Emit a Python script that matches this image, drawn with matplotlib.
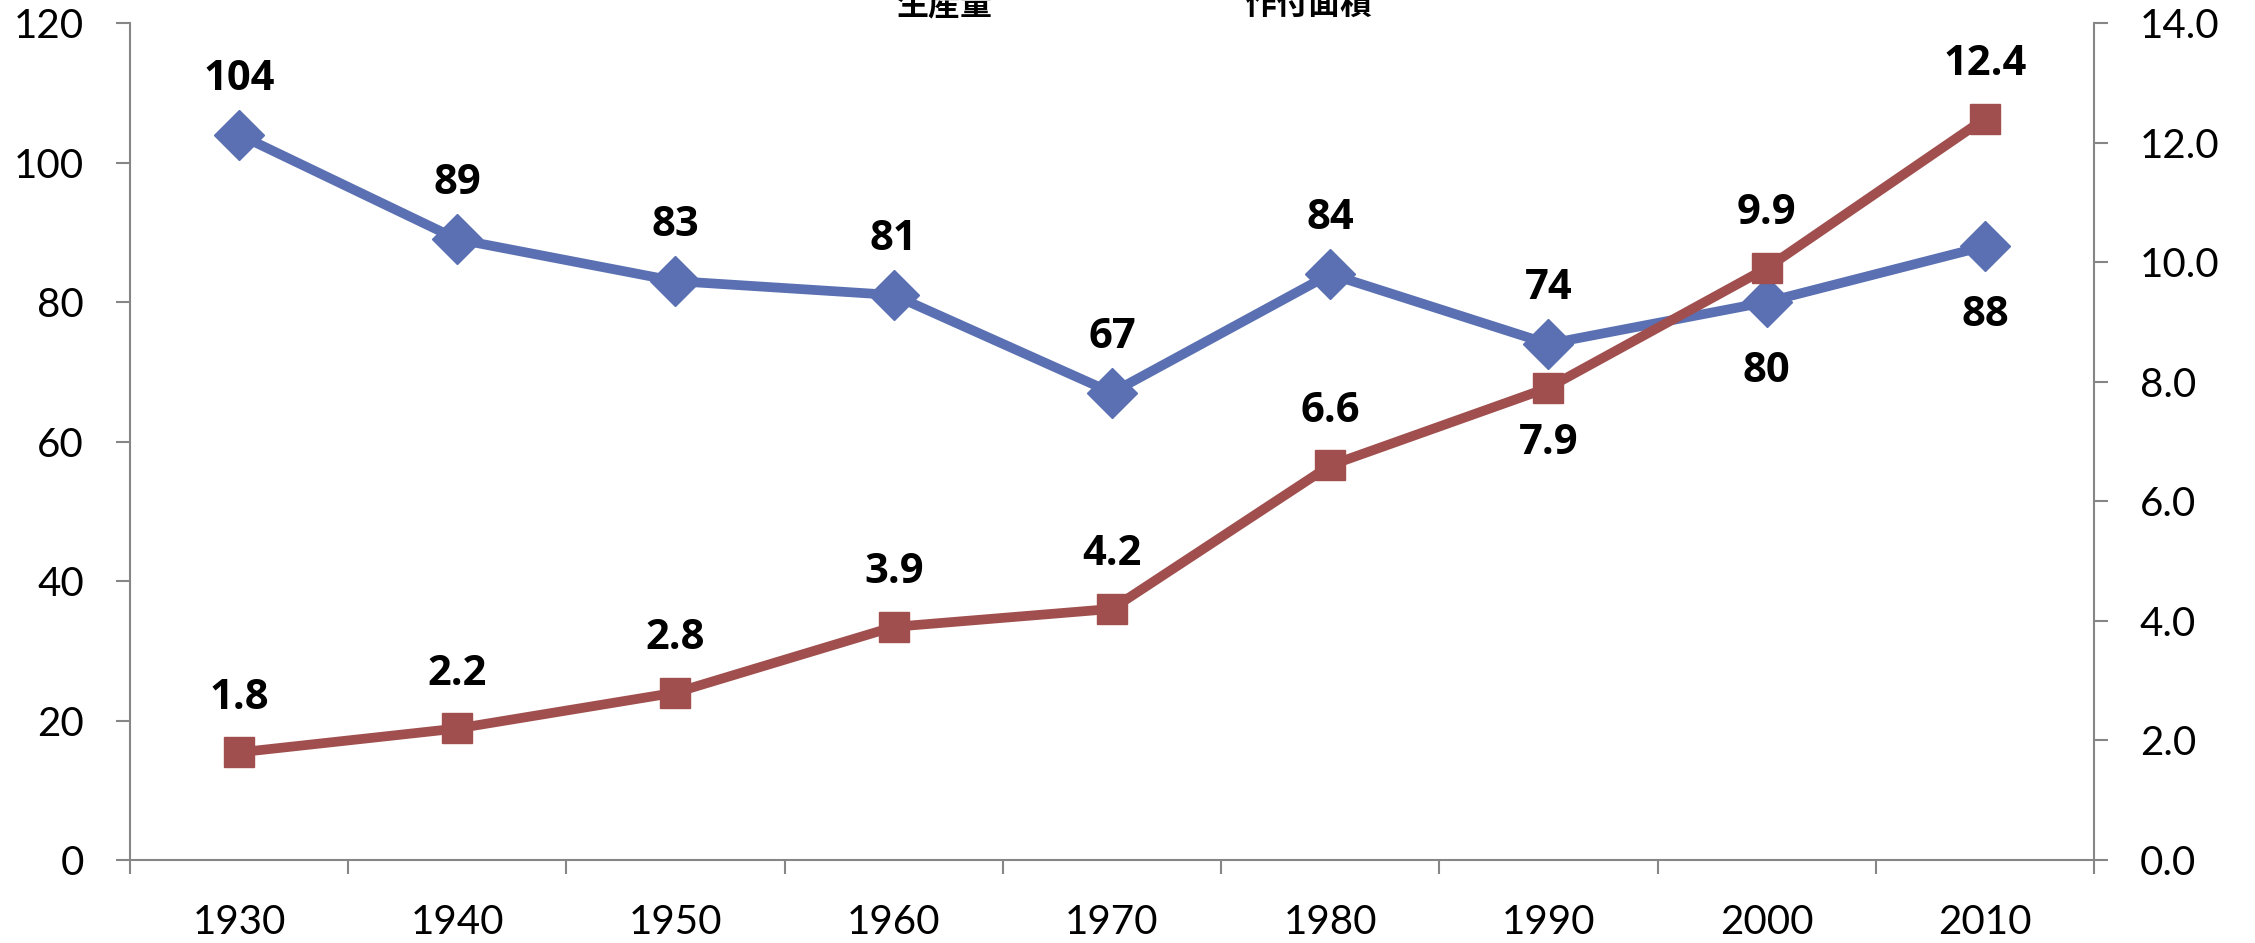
import numpy as np
import matplotlib.pyplot as plt
from matplotlib.ticker import FormatStrFormatter

# data
years = ['1930', '1940', '1950', '1960', '1970', '1980', '1990', '2000', '2010']
area = [104, 89, 83, 81, 67, 84, 74, 80, 88]          # 作付面積 (left axis)
output = [1.8, 2.2, 2.8, 3.9, 4.2, 6.6, 7.9, 9.9, 12.4]  # 生産量 (right axis)
area_below = [False] * 7 + [True, True]
output_below = [False] * 6 + [True, False, False]

blue = '#5A70B2'
red = '#A04F4E'
grey = '#868686'

plt.rcParams['font.family'] = ['Lato', 'Noto Sans CJK JP', 'DejaVu Sans']

fig = plt.figure(figsize=(22.55, 9.43), dpi=100)
ax = fig.add_axes([0.0576, 0.088, 0.871, 0.8876])
ax2 = ax.twinx()

x = np.arange(len(years))
ax.plot(x, area, color=blue, lw=7, marker='D', ms=25, zorder=3)
ax2.plot(x, output, color=red, lw=7, marker='s', ms=22, zorder=3)

lbl = dict(ha='center', va='center', fontsize=30, fontweight='bold',
           family=['Open Sans', 'DejaVu Sans'], textcoords='offset points')
for xi, v, below in zip(x, area, area_below):
    off = -50 if below else 40
    ax.annotate(str(v), (xi, v), xytext=(0, off), **lbl)
for xi, v, below in zip(x, output, output_below):
    off = -40 if below else 39
    ax2.annotate('%.1f' % v, (xi, v), xytext=(0, off), **lbl)

ax.set_xlim(-0.5, len(years) - 0.5)
ax.set_ylim(0, 120)
ax.set_yticks(np.arange(0, 121, 20))
ax2.set_ylim(0, 14)
ax2.set_yticks(np.arange(0, 14.1, 2))
ax2.yaxis.set_major_formatter(FormatStrFormatter('%.1f'))

# ticks at category boundaries, labels at centres
ax.set_xticks(np.arange(-0.5, len(years), 1))
ax.set_xticklabels([])
ax.set_xticks(x, minor=True)
ax.set_xticklabels(years, minor=True)
ax.tick_params(axis='x', which='minor', length=0, pad=32, labelsize=29)
ax.tick_params(axis='x', which='major', length=10, width=1.5, color=grey, direction='out')
ax.tick_params(axis='y', length=10, width=1.5, color=grey, pad=23, labelsize=29)
ax2.tick_params(axis='y', length=10, width=1.5, color=grey, pad=23, labelsize=29)

for a in (ax, ax2):
    a.spines['top'].set_visible(False)
    for s in ('left', 'right', 'bottom'):
        a.spines[s].set_color(grey)
        a.spines[s].set_linewidth(1.5)
ax.spines['right'].set_visible(False)
ax2.spines['left'].set_visible(False)
ax2.spines['bottom'].set_visible(False)

# legend labels, cut off at the top edge as in the original
fig.text(944 / 2255, 1 - 21 / 943, '生産量', ha='center', va='bottom',
         fontsize=23, fontweight='bold', family=['Noto Sans CJK JP'])
fig.text(1308 / 2255, 1 - 21 / 943, '作付面積', ha='center', va='bottom',
         fontsize=23, fontweight='bold', family=['Noto Sans CJK JP'])

fig.savefig('out.png', dpi=100)
